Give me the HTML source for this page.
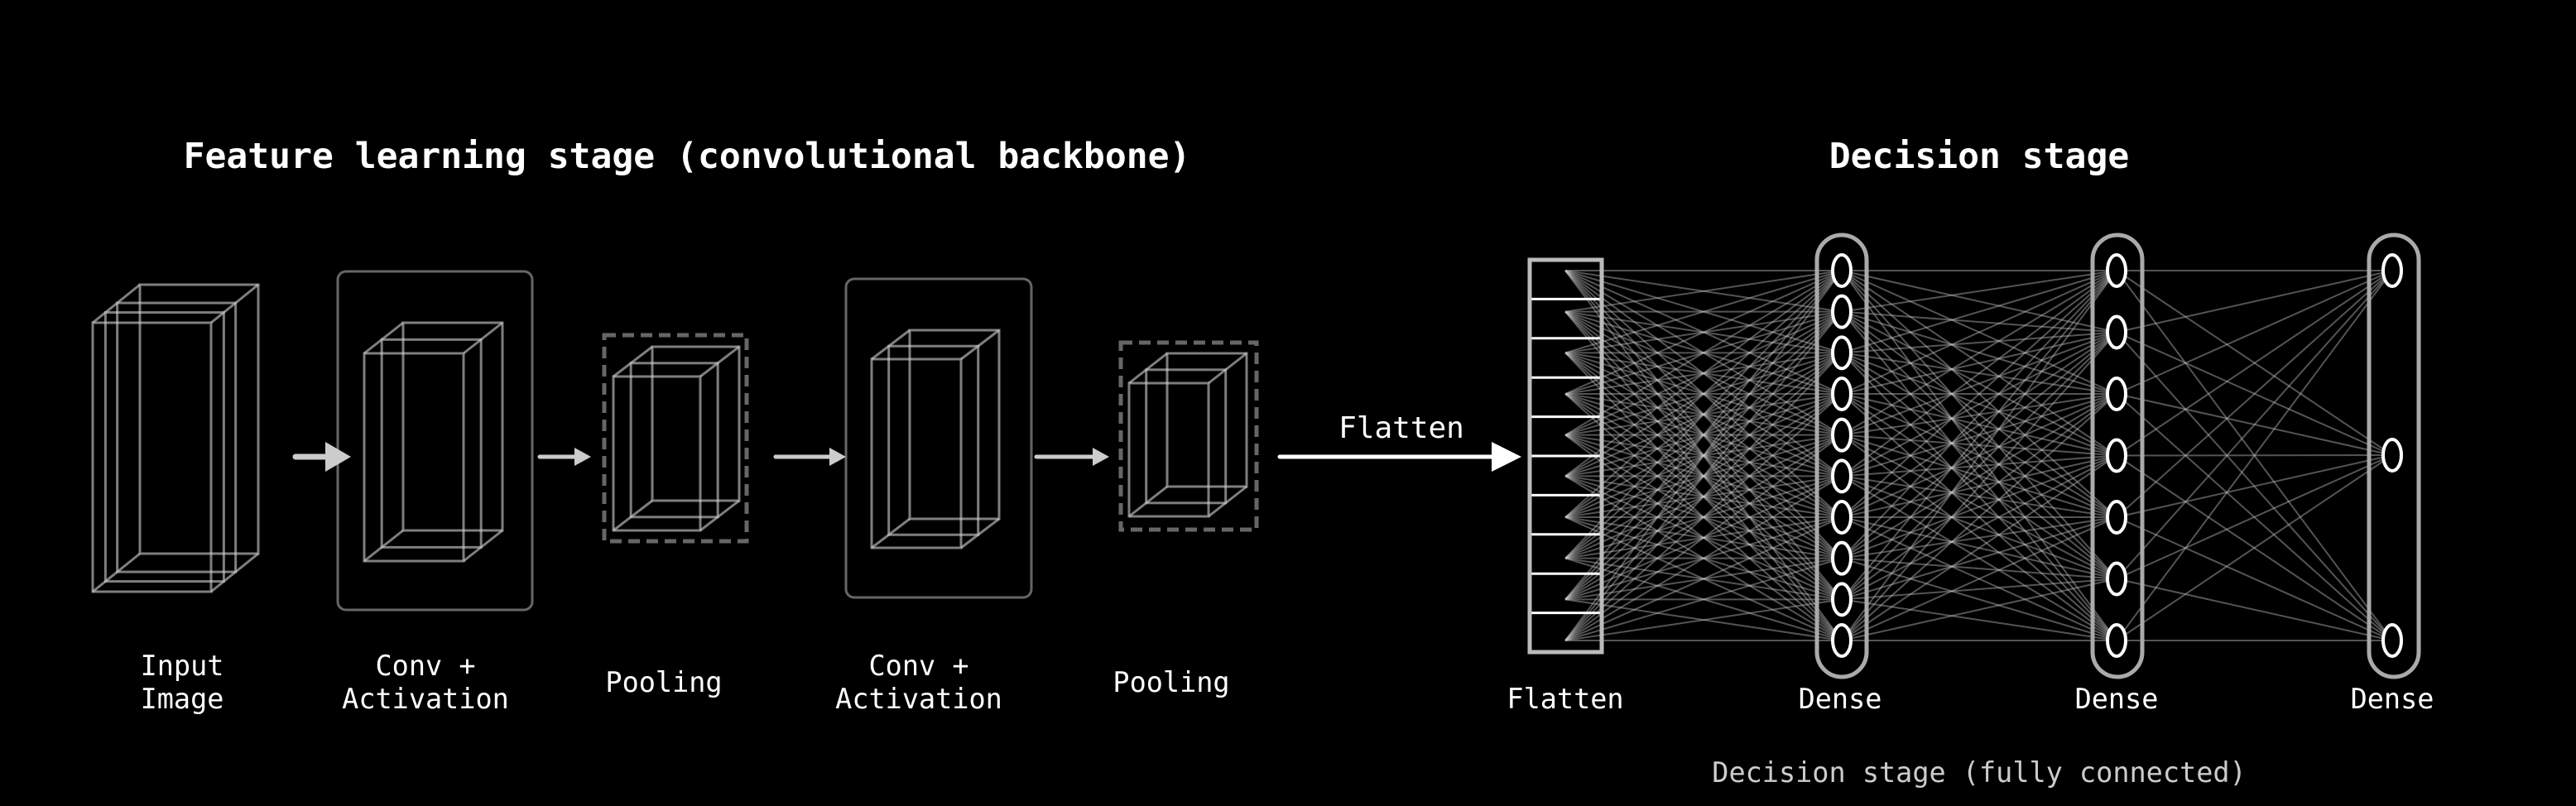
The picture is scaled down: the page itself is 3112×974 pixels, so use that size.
<!DOCTYPE html>
<html><head><meta charset="utf-8"><style>
html,body{margin:0;padding:0;background:#000;}
svg{display:block;}
text{font-family:"DejaVu Sans Mono","Liberation Mono",monospace;fill:#fff;}
</style></head><body>
<svg id="s" width="3112" height="974" viewBox="0 0 3112 974" xmlns="http://www.w3.org/2000/svg">
<rect width="3112" height="974" fill="#000"/>
<g id="net" stroke="rgba(200,200,200,0.42)" stroke-width="2" fill="none"></g>
<g id="cub" stroke="rgba(210,210,210,0.6)" stroke-width="3" fill="none"></g>
<!-- conv boxes -->
<rect x="408" y="328" width="235" height="409" rx="10" fill="none" stroke="#666" stroke-width="3"/>
<rect x="1022" y="337" width="224" height="385" rx="10" fill="none" stroke="#666" stroke-width="3"/>
<!-- pool dashed -->
<rect x="730" y="405" width="172" height="249" fill="none" stroke="#666" stroke-width="5" stroke-dasharray="14 8"/>
<rect x="1354" y="414" width="164" height="226" fill="none" stroke="#666" stroke-width="5" stroke-dasharray="14 8"/>
<!-- arrows -->
<g fill="#ccc" stroke="#ccc" stroke-linecap="round">
<line x1="357" y1="552" x2="400" y2="552" stroke-width="7"/>
<polygon points="393,534 424,552 393,570" stroke="none"/>
<line x1="652" y1="552" x2="698" y2="552" stroke-width="5"/>
<polygon points="694,541 714,552 694,563" stroke="none"/>
<line x1="937" y1="552" x2="1004" y2="552" stroke-width="5"/>
<polygon points="1002,541 1022,552 1002,563" stroke="none"/>
<line x1="1252" y1="552" x2="1322" y2="552" stroke-width="5"/>
<polygon points="1320,541 1340,552 1320,563" stroke="none"/>
</g>
<line x1="1546" y1="552" x2="1808" y2="552" stroke="#fff" stroke-width="5" stroke-linecap="round"/>
<polygon points="1802,534 1838,552 1802,570" fill="#fff"/>
<text x="1693" y="529" font-size="36" text-anchor="middle">Flatten</text>
<!-- flatten box -->
<g stroke="#fff" stroke-width="3" id="cells"></g>
<rect x="1848" y="314" width="87" height="474" fill="none" stroke="#bbb" stroke-width="5"/>
<!-- capsules -->
<rect x="2195" y="284" width="60" height="534" rx="30" fill="none" stroke="#aaa" stroke-width="5"/>
<rect x="2528" y="284" width="60" height="534" rx="30" fill="none" stroke="#aaa" stroke-width="5"/>
<rect x="2862" y="284" width="60" height="534" rx="30" fill="none" stroke="#aaa" stroke-width="5"/>
<g id="nodes" fill="#000" stroke="#fff" stroke-width="4"></g>
<!-- titles -->
<text x="830" y="203" font-size="43" font-weight="bold" text-anchor="middle">Feature learning stage (convolutional backbone)</text>
<text x="2391" y="203" font-size="43" font-weight="bold" text-anchor="middle">Decision stage</text>
<g font-size="33.5" text-anchor="middle">
<text x="220" y="816">Input</text><text x="220" y="856">Image</text>
<text x="514" y="816">Conv +</text><text x="514" y="856">Activation</text>
<text x="802" y="836">Pooling</text>
<text x="1110" y="816">Conv +</text><text x="1110" y="856">Activation</text>
<text x="1415" y="836">Pooling</text>
<text x="1891" y="856">Flatten</text>
<text x="2223" y="856">Dense</text>
<text x="2557" y="856">Dense</text>
<text x="2890" y="856">Dense</text>
<text x="2391" y="945" style="fill:#ccc">Decision stage (fully connected)</text>
</g>
</svg>
<script>
var NS="http://www.w3.org/2000/svg";
function el(p,t,a){var e=document.createElementNS(NS,t);for(var k in a)e.setAttribute(k,a[k]);document.getElementById(p).appendChild(e);}
function ys(n){var r=[];for(var i=0;i<n;i++)r.push(n==1?550:327+(774-327)*i/(n-1));return r;}
var L0=ys(10),L1=ys(10),L2=ys(7),L3=[327,550,774];
function conn(xa,A,xb,B){A.forEach(function(a){B.forEach(function(b){el("net","line",{x1:xa,y1:a,x2:xb,y2:b});});});}
conn(1891,L0,2225,L1);conn(2225,L1,2557,L2);conn(2557,L2,2890,L3);
for(var i=1;i<10;i++){var y=314+474*i/10;el("cells","line",{x1:1848,y1:y,x2:1935,y2:y});}
function nodes(x,Y){Y.forEach(function(y){el("nodes","ellipse",{cx:x,cy:y,rx:11,ry:19});});}
nodes(2225,L1);nodes(2557,L2);nodes(2890,L3);
function cub(x,y,w,h,dx,dy,ts){ts.forEach(function(t){el("cub","rect",{x:x+dx*t,y:y+dy*t,width:w,height:h});});
[[x,y],[x+w,y],[x,y+h],[x+w,y+h]].forEach(function(p){el("cub","line",{x1:p[0],y1:p[1],x2:p[0]+dx,y2:p[1]+dy});});}
cub(112,390,143,325,57,-46,[0,0.27,0.52,1]);
cub(440,427,120,251,47,-37,[0,0.45,1]);
cub(741,455,105,186,47,-36,[0,0.45,1]);
cub(1053,434,108,228,46,-35,[0,0.45,1]);
cub(1364,463,96,161,46,-36,[0,0.45,1]);
</script>
</body></html>
